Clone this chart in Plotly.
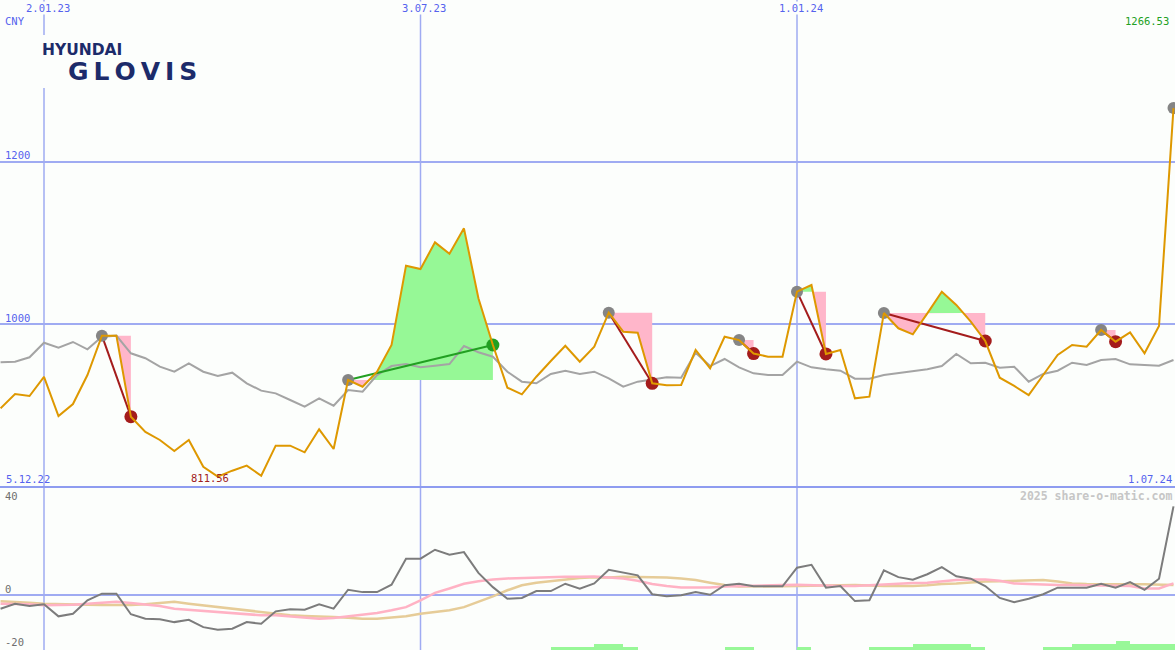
import plotly.graph_objects as go
import pandas as pd

# ---------------- data ----------------
dates = pd.date_range("2022-12-12", periods=82, freq="7D")

price = [895.9, 913.6, 911.1, 934.6, 886.4, 901.2, 937.0, 985.6, 985.6, 885.6,
         866.7, 856.8, 843.2, 856.8, 823.8, 811.56, 818.9, 825.1, 812.7, 849.8,
         849.8, 841.6, 870.0, 845.7, 930.9, 922.6, 941.1, 974.1, 1072.0, 1067.9,
         1100.8, 1086.8, 1118.1, 1031.7, 974.1, 921.4, 913.2, 934.9, 954.3, 973.2,
         953.5, 972.0, 1014.0, 990.5, 989.3, 926.8, 924.3, 924.7, 967.9, 945.3,
         984.3, 980.2, 963.5, 959.7, 959.7, 1039.9, 1048.1, 963.0, 967.9, 908.2,
         910.3, 1013.5, 994.7, 987.2, 1013.2, 1039.9, 1023.5, 1002.9, 979.0, 933.7,
         923.5, 912.3, 937.0, 961.7, 974.1, 972.0, 992.6, 978.2, 989.7, 963.8,
         997.5, 1266.53]

avg = [952.7, 953.5, 958.9, 976.9, 970.7, 977.8, 968.8, 984.3, 985.6, 963.8,
       957.7, 947.3, 941.1, 951.5, 941.1, 935.8, 939.9, 926.8, 917.7, 914.4,
       906.2, 897.9, 908.3, 899.1, 918.5, 916.4, 937.0, 948.1, 950.6, 946.5,
       948.5, 950.6, 972.8, 965.1, 959.6, 941.1, 928.8, 926.8, 938.3, 942.3,
       938.3, 941.1, 933.0, 922.6, 928.8, 931.7, 934.2, 933.7, 964.6, 948.1,
       956.8, 946.5, 939.1, 937.0, 937.0, 953.5, 946.5, 944.1, 942.3, 932.5,
       932.5, 937.0, 939.1, 941.1, 944.1, 948.1, 963.0, 951.5, 952.2, 946.0,
       947.3, 928.8, 938.3, 942.3, 952.2, 949.4, 955.6, 956.8, 950.2, 949.4,
       948.5, 955.6]

osc = [-5.2, -3.3, -4.2, -3.5, -8.1, -7.1, -2.0, 0.5, 0.5, -7.3,
       -9.0, -9.2, -10.3, -9.4, -12.2, -13.2, -12.8, -10.3, -10.9, -6.2,
       -5.4, -5.6, -3.5, -5.2, 2.0, 1.1, 1.1, 3.9, 13.8, 13.8,
       17.2, 15.3, 16.3, 8.4, 3.0, -1.4, -1.1, 1.5, 1.5, 4.3,
       2.4, 4.4, 9.6, 8.5, 7.5, 0.3, -0.5, -0.1, 1.1, 0.1,
       3.7, 4.3, 3.3, 3.3, 3.3, 10.4, 11.5, 2.8, 3.4, -2.3,
       -2.0, 9.4, 6.8, 5.8, 7.9, 10.6, 7.1, 6.2, 3.4, -1.1,
       -2.7, -1.4, 0.3, 2.8, 2.8, 2.8, 4.3, 2.8, 4.9, 2.0,
       6.2, 33.7]

osc_fast = [-3.3, -3.3, -3.5, -3.9, -3.9, -3.7, -3.3, -2.9, -2.6, -3.0,
            -3.5, -4.2, -5.2, -5.6, -6.1, -6.4, -6.8, -7.3, -7.7, -7.7,
            -8.1, -8.6, -9.0, -8.7, -8.1, -7.3, -6.8, -5.8, -4.6, -2.0,
            0.8, 2.5, 4.3, 5.2, 5.9, 6.3, 6.5, 6.7, 6.9, 6.9,
            6.9, 7.0, 6.7, 6.3, 5.4, 4.2, 3.4, 2.9, 2.9, 2.9,
            3.2, 3.4, 3.5, 3.7, 3.8, 3.9, 3.7, 3.5, 3.4, 3.4,
            3.7, 4.2, 4.4, 4.6, 4.7, 5.3, 5.7, 5.9, 5.9, 5.4,
            4.4, 4.2, 3.9, 3.8, 3.8, 3.7, 3.5, 3.4, 3.4, 2.5,
            2.5, 4.4]

osc_slow = [-2.4, -2.6, -2.9, -3.3, -3.5, -3.7, -3.7, -3.8, -3.9, -3.8,
            -3.5, -3.0, -2.6, -3.3, -3.9, -4.6, -5.2, -5.8, -6.4, -7.1,
            -7.7, -8.0, -8.1, -8.4, -8.6, -9.0, -9.0, -8.6, -8.1, -7.1,
            -6.4, -5.8, -4.6, -2.6, -0.5, 1.8, 3.7, 4.7, 5.3, 5.9,
            6.5, 6.8, 6.7, 6.9, 6.9, 6.9, 6.7, 6.3, 5.7, 4.7,
            3.8, 3.2, 3.2, 3.2, 3.4, 3.4, 3.5, 3.5, 3.7, 3.8,
            3.5, 3.4, 3.4, 3.4, 3.7, 4.2, 4.4, 4.8, 5.1, 5.2,
            5.3, 5.4, 5.7, 5.1, 4.4, 4.2, 4.1, 4.1, 4.1, 4.1,
            3.9, 3.8]

bar_level = [0] * 38 + [1, 1, 1, 2, 2, 1] + [0] * 6 + [1, 1] + [0] * 3 + [1] + [0] * 4 \
            + [1, 1, 1, 2, 2, 2, 2, 1] + [0] * 4 + [1, 1, 2, 2, 2, 3, 2, 2, 2, 2]

# signals: (start index, end index, direction) -- 0-based positions in the arrays
signals = [(7, 9, "down"), (24, 34, "up"), (42, 45, "down"), (51, 52, "down"),
           (55, 57, "down"), (61, 68, "down"), (76, 77, "down")]
open_signal = [81]

tick_dates = ["2023-01-02", "2023-07-03", "2024-01-01"]
tick_labels = ["2.01.23", "3.07.23", "1.01.24"]

# ---------------- styling ----------------
BG = "#fcfefc"
GRID = "#9fabf2"
BLUE_TXT = "#5562ee"
ORANGE = "#de9800"
GRAY_AVG = "#a4a4a4"
PINK = "#ffb6ca"
GREEN_FILL = "#96f896"
DARKRED = "#a41c1c"
GREEN = "#22a022"
W, H = 1175, 650
SPLIT = 1 - 487 / H


def px(x, y):
    return x / W, 1 - y / H


fig = go.Figure()


def add_fill(poly, color):
    xs = [p[0] for p in poly]
    ys = [p[1] for p in poly]
    fig.add_trace(go.Scatter(x=xs, y=ys, fill="toself", fillcolor=color, mode="lines",
                             line=dict(width=0), hoverinfo="skip"))


# signal fills
for s, e, d in signals:
    b = price[s]
    pts = [(dates[s], price[s])]
    for k in range(s, e):
        p0, p1 = price[k], price[k + 1]
        if (p0 - b) * (p1 - b) < 0:
            f = (b - p0) / (p1 - p0)
            pts.append((dates[k] + (dates[k + 1] - dates[k]) * f, b))
        pts.append((dates[k + 1], p1))
    low = [(t, min(p, b)) for t, p in pts]
    high = [(t, max(p, b)) for t, p in pts]
    base = [(dates[s], b), (dates[e], b)]
    if any(p < b for _, p in pts):
        add_fill(base + low[::-1], PINK)
    if any(p > b for _, p in pts):
        add_fill(base + high[::-1], GREEN_FILL)

# moving average line
fig.add_trace(go.Scatter(x=dates, y=avg, mode="lines", line=dict(color=GRAY_AVG, width=2),
                         hoverinfo="skip"))

# signal connectors and markers
for s, e, d in signals:
    col = DARKRED if d == "down" else GREEN
    fig.add_trace(go.Scatter(x=[dates[s], dates[e]], y=[price[s], price[e]], mode="lines",
                             line=dict(color=col, width=2), hoverinfo="skip"))
starts = [s for s, _, _ in signals] + open_signal
fig.add_trace(go.Scatter(x=[dates[i] for i in starts], y=[price[i] for i in starts],
                         mode="markers", marker=dict(color="#858585", size=12, line=dict(width=0)),
                         hoverinfo="skip"))
for s, e, d in signals:
    col = DARKRED if d == "down" else GREEN
    fig.add_trace(go.Scatter(x=[dates[e]], y=[price[e]], mode="markers",
                             marker=dict(color=col, size=13, line=dict(width=0)), hoverinfo="skip"))

# price line
fig.add_trace(go.Scatter(x=dates, y=price, mode="lines", line=dict(color=ORANGE, width=2),
                         hoverinfo="skip"))

# lower panel
Y2_BOTTOM, Y2_TOP = -20.9, 41.06
BAR_UNIT = 1.14
week = pd.Timedelta(days=7)
bx = [dates[i] + week / 2 for i in range(len(dates)) if bar_level[i] > 0]
by = [bar_level[i] * BAR_UNIT for i in range(len(dates)) if bar_level[i] > 0]
fig.add_trace(go.Bar(x=bx, y=by, base=Y2_BOTTOM, width=week.total_seconds() * 1000,
                     marker=dict(color="#98f898", line=dict(width=0)), yaxis="y2",
                     hoverinfo="skip"))
fig.add_trace(go.Scatter(x=dates, y=osc_slow, mode="lines", line=dict(color="#e6cc98", width=2.5),
                         yaxis="y2", hoverinfo="skip"))
fig.add_trace(go.Scatter(x=dates, y=osc_fast, mode="lines", line=dict(color="#ffb2c4", width=2.5),
                         yaxis="y2", hoverinfo="skip"))
fig.add_trace(go.Scatter(x=dates, y=osc, mode="lines", line=dict(color="#7c7c7c", width=2),
                         yaxis="y2", hoverinfo="skip"))

# ---------------- gridlines ----------------
shapes = []
for d in tick_dates:
    shapes.append(dict(type="line", xref="x", yref="paper", x0=d, x1=d, y0=0, y1=1,
                       line=dict(color=GRID, width=1.5), layer="below"))
for v in (1000, 1200):
    shapes.append(dict(type="line", xref="paper", yref="y", x0=0, x1=1, y0=v, y1=v,
                       line=dict(color=GRID, width=2), layer="below"))
shapes.append(dict(type="line", xref="paper", yref="y2", x0=0, x1=1, y0=0, y1=0,
                   line=dict(color=GRID, width=2), layer="below"))
shapes.append(dict(type="line", xref="paper", yref="paper", x0=0, x1=1, y0=SPLIT, y1=SPLIT,
                   line=dict(color="#8e9cf0", width=2), layer="above"))
# logo backdrop
lx0, ly0 = px(30, 35)
lx1, ly1 = px(215, 88)
shapes.append(dict(type="rect", xref="paper", yref="paper", x0=lx0, x1=lx1, y0=ly1, y1=ly0,
                   fillcolor=BG, line=dict(width=0), layer="above"))

# ---------------- annotations ----------------
MONO = "DejaVu Sans Mono"
ann = []


def label(text, x, y, anchor="left", color=BLUE_TXT, size=10.5, bg=None, family=MONO):
    xp, yp = px(x, y)
    a = dict(text=text, xref="paper", yref="paper", x=xp, y=yp, xanchor=anchor,
             yanchor="middle", showarrow=False, font=dict(family=family, size=size, color=color),
             borderpad=0)
    if bg:
        a["bgcolor"] = bg
    ann.append(a)


tick_px = [48, 424, 801]
for t, xp_ in zip(tick_labels, tick_px):
    label(t, xp_, 8, anchor="center", bg=BG)
label("CNY", 4, 21)
label("1200", 4, 155)
label("1000", 4, 318)
label("5.12.22", 5, 479)
label("1.07.24", 1173, 479, anchor="right")
label("%.2f" % max(price), 1170, 21, anchor="right", color=GREEN)
label("%.2f" % min(price), 210, 478, anchor="center", color="#a02020")
label("40", 4, 496, color="#6e6e6e")
label("0", 4, 589, color="#6e6e6e")
label("-20", 4, 642, color="#6e6e6e")
label("<b>2025 share-o-matic.com</b>", 1173, 496, anchor="right", color="#c6c6c6", size=11.5)
label("<b>HYUNDAI</b>", 41, 50, color="#1c2b6a", size=15.5, family="DejaVu Sans")
label("<b>G\u2009L\u2009O\u2009V\u2009I\u2009S</b>", 67, 71, color="#1c2b6a", size=25,
      family="DejaVu Sans")

x_left = pd.Timestamp("2023-01-02") - pd.Timedelta(days=44 / 2.06868)
x_right = pd.Timestamp("2024-01-01") + pd.Timedelta(days=(W - 797) / 2.06868)

fig.update_layout(
    width=W, height=H, margin=dict(l=0, r=0, t=0, b=0),
    paper_bgcolor=BG, plot_bgcolor=BG, showlegend=False, bargap=0,
    xaxis=dict(type="date", range=[x_left, x_right], visible=False, fixedrange=True),
    yaxis=dict(domain=[SPLIT, 1], range=[1000 - 163 / 0.81, 1000 + 324 / 0.81], visible=False),
    yaxis2=dict(domain=[0, SPLIT], range=[Y2_BOTTOM, Y2_TOP], visible=False, anchor="x"),
    shapes=shapes, annotations=ann,
)

fig.write_html("out.html", config={"displayModeBar": False},
               post_script="document.body.style.margin='0';document.body.style.overflow='hidden';")
